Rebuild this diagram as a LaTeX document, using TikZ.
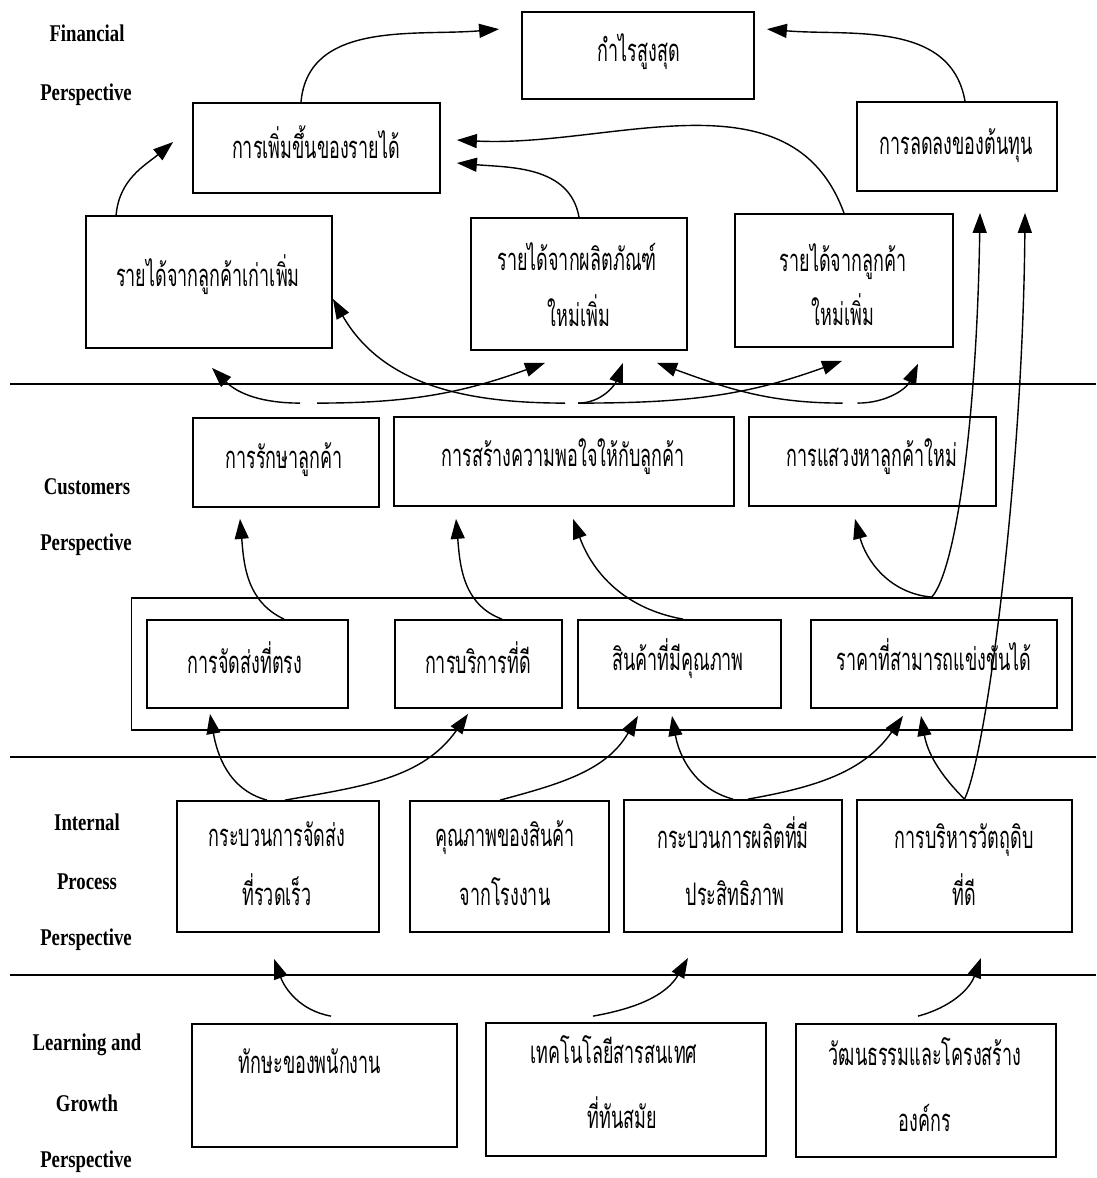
\documentclass[tikz,border=0pt]{standalone}
\usepackage{fontspec}
\newfontfamily\thaifont[Script=Thai,FakeStretch=0.58]{Loma}
\newfontfamily\lblfont[FakeStretch=0.78]{Liberation Serif}
\usetikzlibrary{arrows.meta}
\tikzset{
  box/.style={draw, line width=1.8pt, inner sep=0pt},
  th/.style={font=\thaifont\fontsize{31}{36}\selectfont, inner sep=0pt, anchor=base},
  lbl/.style={font=\lblfont\bfseries\fontsize{24}{28}\selectfont, inner sep=0pt},
  conn/.style={line width=1.4pt, -{Triangle[length=20pt,width=14pt]}},
  divider/.style={line width=1.8pt},
}
\begin{document}
\begin{tikzpicture}[x=1pt,y=1pt]
\useasboundingbox (0,0) rectangle (1096,-1178);
\fill[white] (0,0) rectangle (1096,-1178);

% perspective labels
\node[lbl] (l1a) at (87,-33) {Financial};
\node[lbl] (l1b) at (86,-95) {Perspective};
\node[lbl] (l2a) at (87,-487) {Customers};
\node[lbl] (l2b) at (86,-545) {Perspective};
\node[lbl] (l3a) at (87,-822) {Internal};
\node[lbl] (l3b) at (87,-882) {Process};
\node[lbl] (l3c) at (86,-940) {Perspective};
\node[lbl] (l4a) at (87,-1045) {Learning and};
\node[lbl] (l4b) at (87,-1103) {Growth};
\node[lbl] (l4c) at (86,-1162) {Perspective};

% dividers
\coordinate (d1l) at (10,-384); \coordinate (d1r) at (1096,-384);
\coordinate (d2l) at (10,-757); \coordinate (d2r) at (1096,-757);
\coordinate (d3l) at (10,-975); \coordinate (d3r) at (1096,-975);
\draw[divider] (d1l) -- (d1r);
\draw[divider] (d2l) -- (d2r);
\draw[divider] (d3l) -- (d3r);

% financial boxes
\node[box, minimum width=232pt, minimum height=87pt] (profit) at (638,-55.5) {};
\node[box, minimum width=247pt, minimum height=90pt] (rev) at (316.5,-148) {};
\node[box, minimum width=200pt, minimum height=89pt] (cost) at (957,-146.5) {};
\node[box, minimum width=246pt, minimum height=132pt] (old) at (209,-282) {};
\node[box, minimum width=216pt, minimum height=132pt] (prod) at (579,-284) {};
\node[box, minimum width=218pt, minimum height=133pt] (new) at (844,-280.5) {};

% customer boxes
\node[box, minimum width=186pt, minimum height=89pt] (retain) at (286,-462.5) {};
\node[box, minimum width=340pt, minimum height=89pt] (satisfy) at (564,-461.5) {};
\node[box, minimum width=247pt, minimum height=89pt] (acquire) at (872.5,-461.5) {};
\node[box, minimum width=940.5pt, minimum height=132pt] (outer) at (601.75,-664) {};
\node[box, minimum width=201pt, minimum height=88pt] (deliver) at (247.5,-664) {};
\node[box, minimum width=167pt, minimum height=88pt] (service) at (478.5,-664) {};
\node[box, minimum width=203pt, minimum height=88pt] (quality) at (679.5,-664) {};
\node[box, minimum width=246pt, minimum height=88pt] (price) at (934,-664) {};

% internal boxes
\node[box, minimum width=202pt, minimum height=131pt] (pdeliver) at (278,-866.5) {};
\node[box, minimum width=199pt, minimum height=131pt] (pquality) at (509.5,-866.5) {};
\node[box, minimum width=218pt, minimum height=132pt] (pprod) at (733,-866) {};
\node[box, minimum width=215pt, minimum height=132pt] (pmat) at (964.5,-866) {};

% learning boxes
\node[box, minimum width=265pt, minimum height=123pt] (skill) at (324.5,-1085.5) {};
\node[box, minimum width=280pt, minimum height=133pt] (tech) at (626,-1089.5) {};
\node[box, minimum width=260pt, minimum height=133pt] (culture) at (926,-1090.5) {};

% texts
\node[th] (tprofit) at (639,-61) {กำไรสูงสุด};
\node[th] (trev) at (316,-158) {การเพิ่มขึ้นของรายได้};
\node[th] (tcost) at (956,-154) {การลดลงของต้นทุน};
\node[th] (told) at (208,-286) {รายได้จากลูกค้าเก่าเพิ่ม};
\node[th] (tprod1) at (577,-270) {รายได้จากผลิตภัณฑ์};
\node[th] (tprod2) at (579,-326) {ใหม่เพิ่ม};
\node[th] (tnew1) at (843,-271) {รายได้จากลูกค้า};
\node[th] (tnew2) at (843,-325) {ใหม่เพิ่ม};
\node[th] (tretain) at (284,-468) {การรักษาลูกค้า};
\node[th] (tsatisfy) at (563,-466) {การสร้างความพอใจให้กับลูกค้า};
\node[th] (tacquire) at (872,-466) {การแสวงหาลูกค้าใหม่};
\node[th] (tdeliver) at (245,-673) {การจัดส่งที่ตรง};
\node[th] (tservice) at (478,-673) {การบริการที่ดี};
\node[th] (tquality) at (678,-670) {สินค้าที่มีคุณภาพ};
\node[th] (tprice) at (934,-670) {ราคาที่สามารถแข่งขันได้};
\node[th] (tpd1) at (277,-846) {กระบวนการจัดส่ง};
\node[th] (tpd2) at (277,-905) {ที่รวดเร็ว};
\node[th] (tpq1) at (505,-846) {คุณภาพของสินค้า};
\node[th] (tpq2) at (505,-905) {จากโรงงาน};
\node[th] (tpp1) at (733,-848) {กระบวนการผลิตที่มี};
\node[th] (tpp2) at (735,-905) {ประสิทธิภาพ};
\node[th] (tpm1) at (964,-848) {การบริหารวัตถุดิบ};
\node[th] (tpm2) at (964,-905) {ที่ดี};
\node[th] (tskill) at (310,-1073) {ทักษะของพนักงาน};
\node[th] (ttech1) at (614,-1063) {เทคโนโลยีสารสนเทศ};
\node[th] (ttech2) at (622,-1128) {ที่ทันสมัย};
\node[th] (tcul1) at (925,-1065) {วัฒนธรรมและโครงสร้าง};
\node[th] (tcul2) at (925,-1131) {องค์กร};

% financial arrows
\draw[conn] ([xshift=-15.5pt]rev.north) to[out=85,in=185] ([xshift=-22pt,yshift=-18pt]profit.north west);
\draw[conn] ([xshift=8pt]cost.north) to[out=100,in=-5] ([xshift=12pt,yshift=-18pt]profit.north east);
\draw[conn] ([xshift=31pt]old.north west) to[out=85,in=220] ([xshift=-19pt,yshift=6pt]rev.west);
\draw[conn] (prod.north) to[out=100,in=-5] ([xshift=16pt,yshift=-15pt]rev.east);
\draw[conn] (new.north) to[out=110,in=-3] ([xshift=16pt,yshift=8pt]rev.east);

% customers -> financial
\draw[conn] ([xshift=14pt,yshift=14pt]retain.north) to[out=180,in=-45] ([xshift=3pt,yshift=-19pt]old.south);
\draw[conn] ([xshift=31pt,yshift=14pt]retain.north) to[out=0,in=200] ([xshift=-34pt,yshift=-12pt]prod.south);
\draw[conn] ([xshift=1pt,yshift=13pt]satisfy.north) to[out=180,in=-60] ([yshift=50pt]old.south east);
\draw[conn] ([xshift=14pt,yshift=13pt]satisfy.north) to[out=0,in=-110] ([xshift=44pt,yshift=-12pt]prod.south);
\draw[conn] ([xshift=14pt,yshift=13pt]satisfy.north) to[out=0,in=200] ([xshift=-2pt,yshift=-13pt]new.south);
\draw[conn] ([xshift=-30pt,yshift=13pt]acquire.north) to[out=180,in=-20] ([xshift=78pt,yshift=-12pt]prod.south);
\draw[conn] ([xshift=-15pt,yshift=13pt]acquire.north) to[out=0,in=-115] ([xshift=74pt,yshift=-16pt]new.south);

% value propositions -> customers
\draw[conn] ([xshift=36.5pt]deliver.north) to[out=155,in=-85] ([xshift=-46pt,yshift=-11pt]retain.south);
\draw[conn] ([xshift=23.5pt]service.north) to[out=160,in=-85] ([xshift=-108pt,yshift=-12pt]satisfy.south);
\draw[conn] ([xshift=3.5pt]quality.north) to[out=170,in=-70] ([xshift=9pt,yshift=-12pt]satisfy.south);
\draw[conn] ([xshift=330pt]outer.north) to[out=175,in=-75] ([xshift=-17.5pt,yshift=-12pt]acquire.south);
\draw[conn] ([xshift=330pt]outer.north) .. controls +(25,28) and +(-3,-200) .. ([xshift=23pt,yshift=-21pt]cost.south);

% internal -> value propositions
\draw[conn] ([xshift=-11pt]pdeliver.north) to[out=165,in=-80] ([xshift=-37.5pt,yshift=-5pt]deliver.south);
\draw[conn] ([xshift=7pt]pdeliver.north) to[out=10,in=-125] ([xshift=-10.5pt,yshift=-5pt]service.south);
\draw[conn] ([xshift=-9.5pt]pquality.north) to[out=15,in=-120] ([xshift=-41.5pt,yshift=-7pt]quality.south);
\draw[conn] (pprod.north) to[out=165,in=-80] ([xshift=-7.5pt,yshift=-7pt]quality.south);
\draw[conn] ([xshift=15pt]pprod.north) to[out=10,in=-125] ([xshift=-31pt,yshift=-7pt]price.south);
\draw[conn] (pmat.north) to[out=135,in=-80] ([xshift=-13pt,yshift=-7pt]price.south);
\draw[conn] (pmat.north) .. controls +(22,45) and +(-2,-260) .. ([xshift=68pt,yshift=-21pt]cost.south);

% learning -> internal
\draw[conn] ([xshift=6.5pt,yshift=7pt]skill.north) to[out=170,in=-70] ([xshift=-4pt,yshift=-26pt]pdeliver.south);
\draw[conn] ([xshift=-33pt,yshift=6pt]tech.north) to[out=10,in=-120] ([xshift=-45pt,yshift=-25pt]pprod.south);
\draw[conn] ([xshift=-8pt,yshift=7pt]culture.north) to[out=15,in=-110] ([xshift=16.5pt,yshift=-25pt]pmat.south);
\end{tikzpicture}
\end{document}
